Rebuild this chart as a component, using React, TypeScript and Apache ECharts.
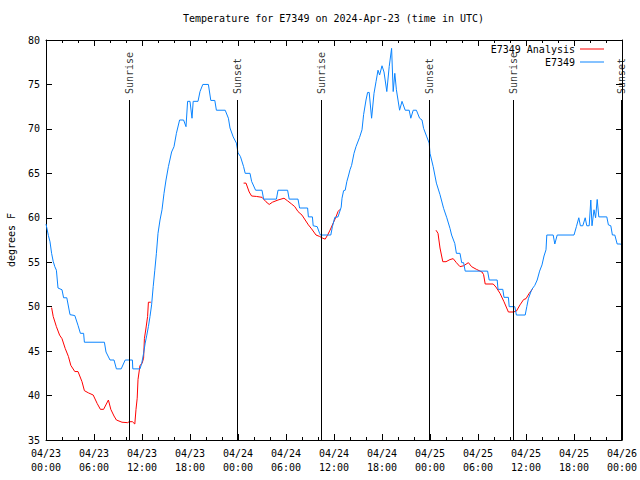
import React, { useEffect, useRef } from "react";
import * as echarts from "echarts";

// Hours since 04/23 00:00 UTC
const tickLabels = [
  "04/23\n00:00", "04/23\n06:00", "04/23\n12:00", "04/23\n18:00",
  "04/24\n00:00", "04/24\n06:00", "04/24\n12:00", "04/24\n18:00",
  "04/25\n00:00", "04/25\n06:00", "04/25\n12:00", "04/25\n18:00",
  "04/26\n00:00",
];

const observedHours = [
  0.0, 0.3, 0.5, 0.7, 0.9, 1.1, 1.3, 1.5, 2.0, 2.2, 2.6, 3.0, 3.6, 4.0, 4.3, 4.7, 4.8,
  7.3, 7.5, 8.0, 8.5, 8.8, 9.4, 9.9, 10.8, 10.85, 11.75, 11.96, 12.2, 12.4, 12.6, 12.8,
  13.0, 13.2, 13.4, 13.6, 13.8, 14.0, 14.25, 14.5, 14.75, 15.0, 15.3, 15.7, 16.0, 16.3,
  16.7, 17.2, 17.5, 17.7, 18.0, 18.25, 18.4, 19.0, 19.25, 19.6, 20.3, 20.6, 21.1, 21.3,
  22.4, 22.8, 23.0, 23.4, 23.8, 24.0, 24.3, 24.7, 24.9, 25.5, 25.7, 26.2, 27.0, 27.2,
  28.8, 29.0, 30.2, 30.4, 31.5, 31.7, 32.7, 32.8, 33.3, 33.4, 33.9, 34.2, 34.3, 35.6,
  35.8, 36.1, 36.5, 36.9, 37.0, 37.2, 37.4, 37.6, 37.8, 38.0, 38.2, 38.5, 38.75, 39.2,
  39.5, 39.7, 40.0, 40.2, 40.4, 40.7, 41.0, 41.25, 41.5, 41.7, 42.0, 42.25, 42.6, 42.9,
  43.2, 43.4, 43.6, 43.8, 44.2, 44.5, 44.9, 45.4, 45.6, 45.9, 46.3, 46.7, 47.0, 47.2,
  47.6, 47.9, 48.0, 48.4, 48.8, 49.25, 49.7, 50.1, 50.5, 50.7, 51.1, 51.3, 51.75, 51.96,
  52.2, 52.4, 55.2, 55.4, 56.4, 56.5, 57.1, 57.25, 57.8, 57.9, 58.6, 58.8, 59.9, 60.1,
  60.3, 60.7, 61.1, 61.4, 61.7, 62.0, 62.25, 62.5, 62.6, 63.4, 63.6, 63.9, 66.0, 66.3,
  66.6, 66.8, 67.1, 67.4, 67.6, 67.9, 68.1, 68.25, 68.5, 68.7, 68.9, 69.1, 70.1, 70.3,
  70.6, 70.8, 71.1, 71.4, 71.75, 72.0,
];
const observedTemps = [
  59.3, 58.0, 57.3, 56.0, 55.1, 54.5, 54.1, 52.1, 51.9, 51.0, 51.0, 49.1, 49.0, 47.9, 47.0, 47.0, 46.0,
  46.0, 44.9, 44.0, 44.0, 43.0, 43.0, 44.0, 44.0, 43.0, 43.0, 43.6, 44.75, 45.9, 46.8, 47.75,
  48.9, 50.2, 52.25, 54.1, 56.0, 58.25, 59.75, 60.9, 62.75, 64.25, 65.75, 67.4, 68.0, 69.5,
  71.0, 71.0, 70.25, 73.1, 73.1, 71.2, 73.1, 73.1, 74.2, 75.0, 75.0, 73.2, 73.2, 72.1,
  72.1, 71.2, 70.1, 69.1, 68.4, 67.3, 66.9, 65.75, 65.0, 65.0, 64.1, 63.1, 63.1, 62.1,
  62.1, 63.1, 63.1, 62.1, 62.1, 61.1, 61.1, 60.1, 60.1, 59.1, 59.0, 58.25, 58.06, 58.06,
  59.0, 60.05, 60.1, 61.2, 62.2, 63.05, 63.1, 64.06, 64.7, 65.4, 65.9, 67.25, 68.0, 69.05,
  69.9, 71.6, 73.25, 74.1, 74.1, 71.2, 74.0, 75.3, 76.6, 76.06, 77.1, 76.4, 74.2, 77.0,
  79.06, 74.2, 76.25, 74.4, 72.1, 73.1, 72.1, 72.1, 71.2, 72.1, 72.1, 71.2, 71.0, 70.06,
  69.1, 68.4, 67.25, 65.75, 63.9, 62.6, 61.06, 60.0, 58.8, 58.06, 57.1, 56.0, 56.0, 54.95,
  54.95, 54.0, 54.0, 53.0, 53.0, 51.95, 51.95, 51.05, 51.05, 50.0, 50.0, 49.06, 49.06, 50.0,
  50.9, 51.9, 52.4, 53.0, 54.0, 54.7, 55.7, 56.4, 58.06, 58.06, 57.05, 58.06, 58.06, 59.0,
  60.0, 59.1, 59.1, 60.0, 59.1, 59.1, 62.0, 59.1, 60.9, 60.0, 62.06, 60.1, 60.1, 59.2,
  59.1, 58.06, 58.06, 57.05, 57.05, 57.0,
];

// Analysis series; null separates the three runs
const analysisHours = [
  0.7, 0.9, 1.3, 1.7, 2.0, 2.4, 2.8, 3.1, 3.6, 4.0, 4.5, 4.8, 5.3, 5.9, 6.4, 6.8, 7.2, 7.8,
  8.1, 8.5, 8.8, 9.5, 10.2, 10.4, 10.8, 11.1, 11.25, 11.4, 11.5, 11.75, 12.0, 12.2, 12.3,
  12.5, 12.7, 12.8, 13.1,
  18.5,
  24.7, 25.0, 25.4, 25.7, 26.3, 27.0, 27.5, 27.9, 28.3, 29.0, 29.75, 30.2, 30.7, 31.1,
  31.5, 32.0, 32.4, 32.8, 33.2, 33.75, 34.2, 34.6, 34.9, 35.2, 35.5, 35.9, 36.25, 36.5, 36.75,
  42.5,
  48.75, 49.0, 49.25, 49.6, 50.0, 50.5, 50.9, 51.3, 51.75, 52.2, 52.8, 53.2, 53.8, 54.5,
  54.7, 54.9, 55.9, 56.25, 56.75, 57.25, 57.8, 58.4, 58.8, 59.25, 59.7, 60.0, 60.4, 60.8,
];
const analysisTemps: (number | null)[] = [
  49.9, 48.9, 47.75, 46.8, 46.4, 45.3, 44.4, 43.4, 42.7, 42.7, 41.56, 40.55, 40.3, 40.06, 39.1, 38.45, 38.45, 39.5,
  38.45, 37.7, 37.25, 37.0, 36.95, 37.06, 37.06, 36.8, 38.45, 39.7, 41.8, 43.4, 43.6, 44.2, 46.4,
  47.6, 48.9, 50.5, 50.5,
  null,
  63.9, 63.9, 62.9, 62.45, 62.4, 62.3, 61.8, 61.5, 61.75, 62.0, 62.2, 61.9, 61.55, 61.25,
  60.7, 60.3, 59.75, 59.2, 58.75, 58.06, 57.9, 57.7, 57.6, 58.06, 58.6, 59.4, 60.1, 60.7, 60.95,
  null,
  58.6, 58.25, 56.6, 55.06, 55.06, 55.3, 55.4, 54.95, 54.5, 54.6, 54.95, 54.5, 54.2, 53.9,
  53.6, 52.55, 52.55, 52.2, 51.5, 50.55, 49.4, 49.4, 49.5, 50.2, 50.8, 50.9, 51.5, 51.95,
];

const sunHours = [10.4, 23.9, 34.4, 47.9, 58.4, 71.9];
const sunLabels = ["Sunrise", "Sunset", "Sunrise", "Sunset", "Sunrise", "Sunset"];
const sunLineTop = 73.25;

const MONO = "'DejaVu Sans Mono', 'Liberation Mono', monospace";

export default function App() {
  const ref = useRef<HTMLDivElement>(null);
  useEffect(() => {
    if (!ref.current) return;
    const chart = echarts.init(ref.current, null, { renderer: "svg" });
    const axisCommon = {
      axisLine: { show: true, onZero: false, lineStyle: { color: "#000", width: 1 } },
      splitLine: { show: false },
    };
    chart.setOption({
      animation: false,
      backgroundColor: "#fff",
      title: {
        text: "Temperature for E7349 on 2024-Apr-23 (time in UTC)",
        left: 183,
        top: 13,
        padding: 0,
        textStyle: { fontFamily: MONO, fontSize: 10, fontWeight: "normal", color: "#000" },
      },
      legend: [
        {
          data: ["E7349 Analysis"],
          right: 36,
          top: 44,
          padding: 0,
          align: "right",
          icon: "rect",
          itemWidth: 24,
          itemHeight: 1,
          textStyle: { fontFamily: MONO, fontSize: 10, color: "#000" },
        },
        {
          data: ["E7349"],
          right: 36,
          top: 57,
          padding: 0,
          align: "right",
          icon: "rect",
          itemWidth: 24,
          itemHeight: 1,
          textStyle: { fontFamily: MONO, fontSize: 10, color: "#000" },
        },
      ],
      grid: {
        left: 46,
        right: 18,
        top: 40,
        bottom: 40,
        containLabel: false,
        outerBoundsMode: "none",
      },
      xAxis: [
        {
          ...axisCommon,
          type: "value",
          min: 0,
          max: 72,
          interval: 6,
          axisTick: { show: true, inside: true, length: 6, lineStyle: { color: "#000" } },
          minorTick: { show: true, splitNumber: 3, length: 3, lineStyle: { color: "#000" } },
          axisLabel: {
            fontFamily: MONO,
            fontSize: 10,
            color: "#000",
            lineHeight: 14,
            margin: 6,
            formatter: (v: number) => tickLabels[Math.round(v / 6)] ?? "",
          },
        },
        {
          ...axisCommon,
          type: "value",
          position: "top",
          min: 0,
          max: 72,
          interval: 6,
          axisTick: { show: true, inside: true, length: 6, lineStyle: { color: "#000" } },
          minorTick: { show: true, splitNumber: 3, length: 3, lineStyle: { color: "#000" } },
          axisLabel: { show: false },
        },
      ],
      yAxis: [
        {
          ...axisCommon,
          type: "value",
          min: 35,
          max: 80,
          interval: 5,
          name: "degrees F",
          nameLocation: "middle",
          nameGap: 30,
          nameTextStyle: { fontFamily: MONO, fontSize: 10, color: "#000" },
          axisTick: { show: true, inside: true, length: 6, lineStyle: { color: "#000" } },
          axisLabel: { fontFamily: MONO, fontSize: 10, color: "#000", margin: 6 },
        },
        {
          ...axisCommon,
          type: "value",
          position: "right",
          min: 35,
          max: 80,
          interval: 5,
          axisTick: { show: true, inside: true, length: 6, lineStyle: { color: "#000" } },
          axisLabel: { show: false },
        },
      ],
      series: [
        {
          name: "E7349 Analysis",
          type: "line",
          data: analysisHours.map((h, i) => [h, analysisTemps[i]]),
          connectNulls: false,
          showSymbol: false,
          symbol: "none",
          color: "#ff0000",
          lineStyle: { color: "#ff0000", width: 1 },
          z: 3,
        },
        {
          name: "E7349",
          type: "line",
          data: observedHours.map((h, i) => [h, observedTemps[i]]),
          showSymbol: false,
          symbol: "none",
          color: "#0a84ff",
          lineStyle: { color: "#0a84ff", width: 1 },
          z: 4,
        },
        {
          name: "sun",
          type: "scatter",
          symbolSize: 0,
          data: sunHours.map((h) => [h, sunLineTop]),
          label: {
            show: true,
            position: "top",
            distance: 6,
            rotate: 90,
            align: "left",
            verticalAlign: "middle",
            fontFamily: MONO,
            fontSize: 10,
            color: "#000",
            formatter: (p: any) => sunLabels[p.dataIndex],
          },
          markLine: {
            silent: true,
            symbol: "none",
            label: { show: false },
            lineStyle: { color: "#000", width: 1, type: "solid" },
            data: sunHours.map((h) => [{ coord: [h, 35] }, { coord: [h, sunLineTop] }]),
          },
          z: 2,
        },
      ],
    });
    return () => chart.dispose();
  }, []);
  return (
    <div
      ref={ref}
      style={{ position: "fixed", left: 0, top: 0, width: 640, height: 480 }}
    />
  );
}
